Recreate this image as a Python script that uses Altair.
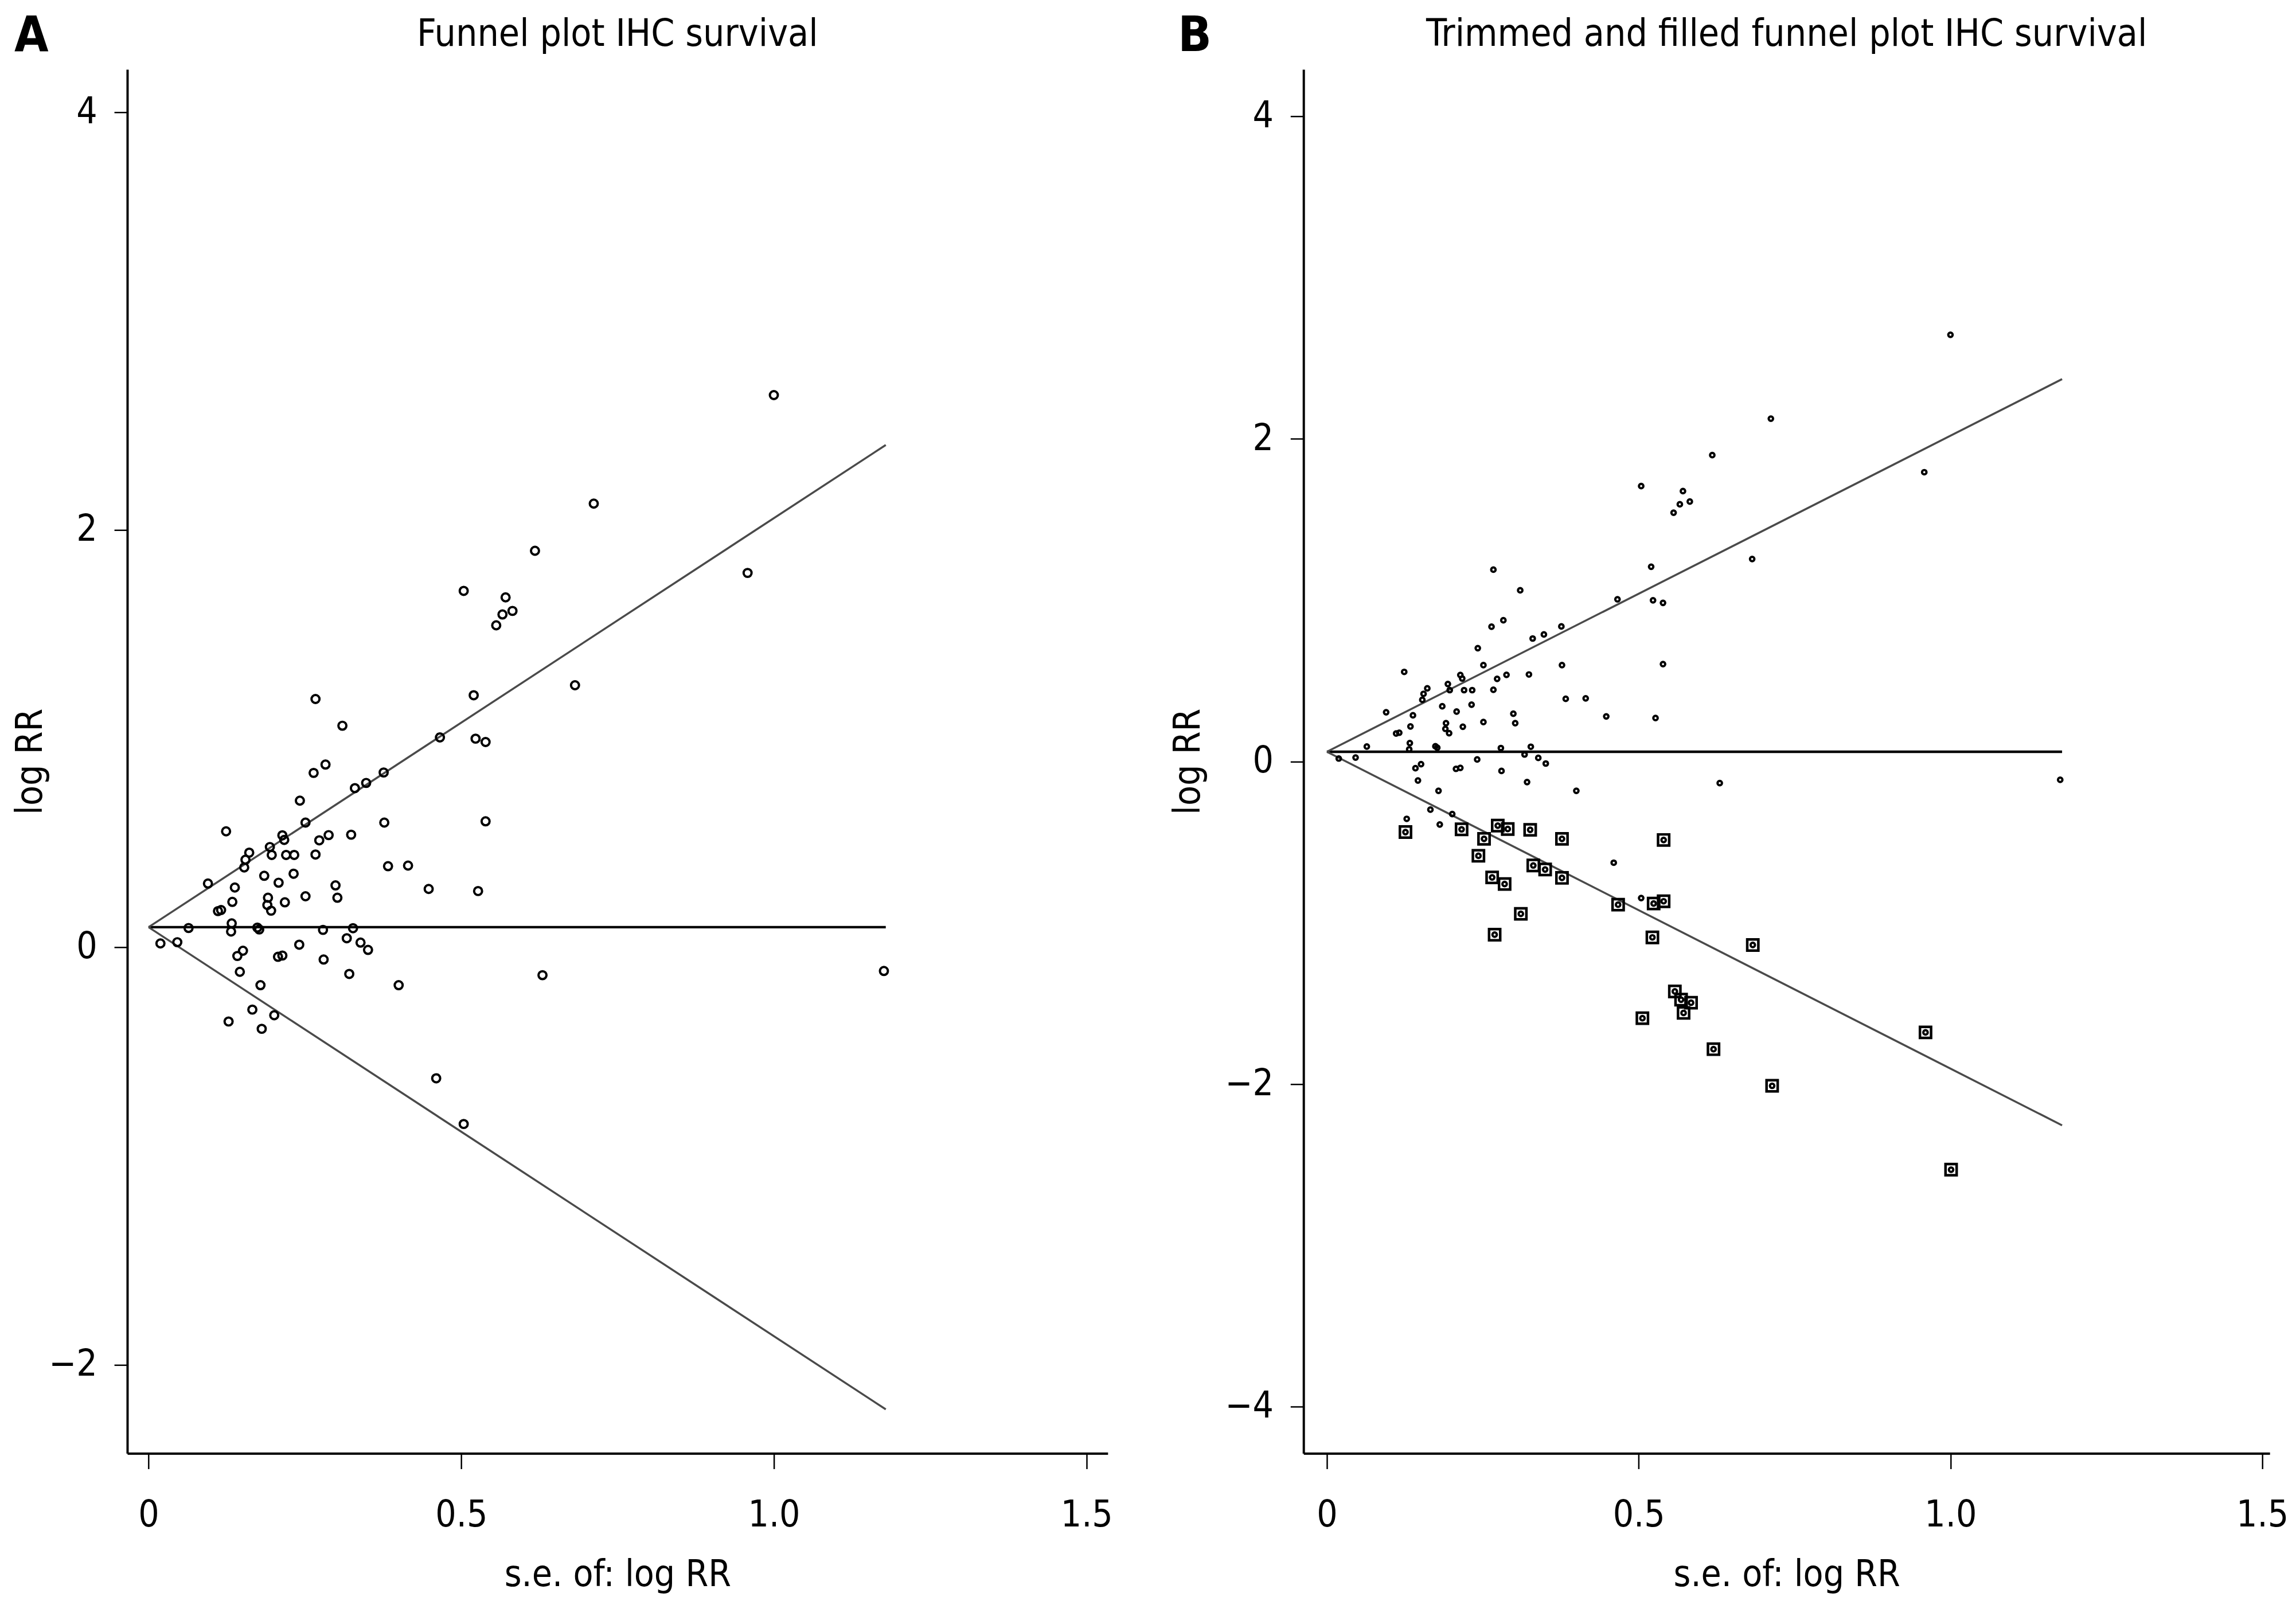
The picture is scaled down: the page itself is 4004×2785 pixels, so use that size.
import altair as alt
import pandas as pd

# ---- observed studies (standard error of log RR, log RR) ----
se = [
    0.267, 0.310, 0.466, 0.283, 0.264, 0.376, 0.348, 0.330, 0.242, 0.251,
    0.377, 0.124, 0.214, 0.217, 0.273, 0.288, 0.324, 0.194, 0.161, 0.197,
    0.220, 0.233, 0.267, 0.155, 0.153, 0.383, 0.415, 0.095, 0.185, 0.232,
    0.208, 0.138, 0.299, 0.448, 0.134, 0.191, 0.251, 0.302, 0.218, 0.190,
    0.196, 0.111, 0.116, 0.064, 0.133, 0.132, 0.174, 0.177, 0.279, 0.327,
    0.019, 0.046, 0.317, 0.339, 0.351, 0.241, 0.151, 0.142, 0.207, 0.214,
    0.280, 0.146, 0.321, 0.179, 0.400, 0.166, 0.201, 0.128, 0.181, 0.460,
    1.000, 0.712, 0.618, 0.958, 0.504, 0.571, 0.582, 0.566, 0.556, 0.520,
    0.682, 0.523, 0.539, 0.539, 0.527, 0.504, 0.630, 1.176,
]
logrr = [
    1.189, 1.061, 1.005, 0.875, 0.835, 0.837, 0.787, 0.762, 0.702, 0.597,
    0.597, 0.555, 0.536, 0.514, 0.512, 0.537, 0.539, 0.480, 0.453, 0.442,
    0.442, 0.442, 0.444, 0.419, 0.382, 0.388, 0.391, 0.305, 0.342, 0.352,
    0.309, 0.286, 0.296, 0.279, 0.217, 0.237, 0.244, 0.237, 0.215, 0.202,
    0.175, 0.173, 0.178, 0.092, 0.114, 0.075, 0.094, 0.085, 0.083, 0.091,
    0.018, 0.024, 0.043, 0.022, -0.013, 0.012, -0.017, -0.042, -0.046, -0.040,
    -0.059, -0.118, -0.128, -0.182, -0.182, -0.299, -0.326, -0.356, -0.391, -0.628,
    2.645, 2.125, 1.899, 1.793, 1.707, 1.676, 1.611, 1.594, 1.542, 1.207,
    1.255, 0.999, 0.983, 0.603, 0.269, -0.847, -0.134, -0.114,
]

# ---- filled (imputed) studies in panel B ----
filled_se = [
    0.126, 0.216, 0.252, 0.274, 0.290, 0.326, 0.377, 0.540, 0.243, 0.331,
    0.350, 0.377, 0.265, 0.285, 0.467, 0.524, 0.540, 0.311, 0.269, 0.522,
    0.558, 0.568, 0.584, 0.572, 0.506, 0.620, 0.683, 0.714, 0.960, 1.001,
]
filled_logrr = [
    -0.438, -0.421, -0.480, -0.398, -0.419, -0.424, -0.480, -0.487, -0.585, -0.645,
    -0.670, -0.722, -0.719, -0.760, -0.888, -0.881, -0.867, -0.945, -1.074, -1.091,
    -1.426, -1.477, -1.496, -1.559, -1.592, -1.784, -1.138, -2.011, -1.680, -2.531,
]

# ---- funnel lines (pooled estimate and pseudo 95% limits) ----
funnel_se = [0.0, 1.179]
a_center = [0.096, 0.096]
a_upper = [0.096, 2.406]
a_lower = [0.096, -2.214]
b_center = [0.060, 0.060]
b_upper = [0.060, 2.370]
b_lower = [0.060, -2.256]

x_ticks = [0, 0.5, 1.0, 1.5]
a_y_ticks = [-2, 0, 2, 4]
b_y_ticks = [-4, -2, 0, 2, 4]

FONT = "Liberation Sans Narrow, DejaVu Sans Condensed, Liberation Sans, sans-serif"
LABEL_FS = 64
TITLE_FS = 64


def panel(letter, title, center, upper, lower, xdom, ydom, yticks, w, h,
          ytitle_x, letter_x, filled=False):
    obs = pd.DataFrame({"se": se, "val": logrr})
    lines = pd.DataFrame({
        "se": funnel_se * 3,
        "val": center + upper + lower,
        "kind": ["center"] * 2 + ["upper"] * 2 + ["lower"] * 2,
    })
    xenc = alt.X(
        "se:Q",
        scale=alt.Scale(domain=xdom, nice=False, zero=False),
        axis=alt.Axis(
            values=x_ticks, title="s.e. of: log RR", grid=False,
            labelExpr="datum.value == 0 ? '0' : format(datum.value, '.1f')",
            domainColor="black", domainWidth=4, tickColor="black", tickWidth=2.5,
            tickSize=27, labelPadding=50, labelFont=FONT, labelFontSize=LABEL_FS,
            labelColor="black", labelFlush=False, labelOverlap=False,
            titleFont=FONT, titleFontSize=TITLE_FS, titleFontWeight="normal",
            titleColor="black", titleY=232, titleBaseline="alphabetic",
        ),
    )
    yenc = alt.Y(
        "val:Q",
        scale=alt.Scale(domain=ydom, nice=False, zero=False),
        axis=alt.Axis(
            values=yticks, title="log RR", grid=False, format="d",
            domainColor="black", domainWidth=4, tickColor="black", tickWidth=2.5,
            tickSize=23, labelPadding=30, labelFont=FONT, labelFontSize=LABEL_FS,
            labelColor="black", labelOverlap=False, labelFlush=False,
            titleFont=FONT, titleFontSize=TITLE_FS, titleFontWeight="normal",
            titleColor="black", titleX=ytitle_x, titleY=h / 2, titleAngle=270,
            titleBaseline="alphabetic", titleAlign="center",
        ),
    )
    center_line = alt.Chart(lines).transform_filter(
        alt.datum.kind == "center"
    ).mark_line(color="black", strokeWidth=4.5).encode(x=xenc, y=yenc)
    limit_lines = alt.Chart(lines).transform_filter(
        alt.datum.kind != "center"
    ).mark_line(color="#4a4a4a", strokeWidth=3.5).encode(x=xenc, y=yenc, detail="kind:N")

    layers = [center_line, limit_lines]
    if filled:
        fdf = pd.DataFrame({"se": filled_se, "val": filled_logrr})
        squares = alt.Chart(fdf).mark_point(
            shape="square", filled=False, color="black", size=380,
            strokeWidth=4.5, opacity=1,
        ).encode(x=xenc, y=yenc)
        inner = alt.Chart(fdf).mark_point(
            shape="circle", filled=False, color="black", size=60,
            strokeWidth=4, opacity=1,
        ).encode(x=xenc, y=yenc)
        pts = alt.Chart(obs).mark_point(
            shape="circle", filled=False, color="black", size=60,
            strokeWidth=4, opacity=1,
        ).encode(x=xenc, y=yenc)
        layers += [squares, inner, pts]
    else:
        pts = alt.Chart(obs).mark_point(
            shape="circle", filled=False, color="black", size=196,
            strokeWidth=4, opacity=1,
        ).encode(x=xenc, y=yenc)
        layers.append(pts)

    label_df = pd.DataFrame({"letter": [letter], "title": [title]})
    letter_mark = alt.Chart(label_df).mark_text(
        font=FONT, fontSize=86, fontWeight="bold", color="black",
        align="left", baseline="alphabetic",
    ).encode(text="letter:N", x=alt.value(letter_x), y=alt.value(-32))
    title_mark = alt.Chart(label_df).mark_text(
        font=FONT, fontSize=66, color="black", align="center",
        baseline="alphabetic",
    ).encode(text="title:N", x=alt.value(w / 2), y=alt.value(-41))
    layers += [letter_mark, title_mark]

    return alt.layer(*layers).properties(width=w, height=h)


panel_a = panel("A", "Funnel plot IHC survival", a_center, a_upper, a_lower,
                [-0.034, 1.534], [-2.425, 4.205], a_y_ticks, 1718, 2425,
                ytitle_x=-150, letter_x=-198)
panel_b = panel("B", "Trimmed and filled funnel plot IHC survival", b_center,
                b_upper, b_lower, [-0.0375, 1.512], [-4.29, 4.29], b_y_ticks,
                1693, 2425, ytitle_x=-183, letter_x=-220, filled=True)

chart = alt.HConcatChart(
    hconcat=[panel_a, panel_b], spacing=343, bounds="flush"
).properties(
    padding={"left": 14, "top": 6, "right": 5, "bottom": 5},
    background="white",
).configure_view(stroke=None)

chart.save("out.html", embed_options={"renderer": "svg", "actions": False})
